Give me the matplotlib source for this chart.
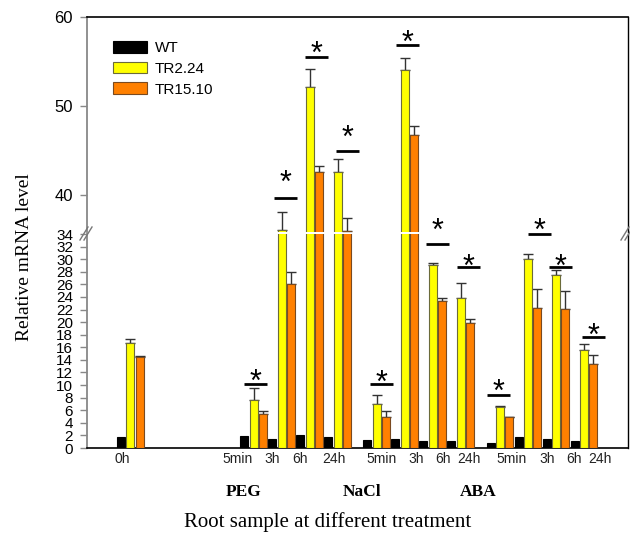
import matplotlib
matplotlib.use("Agg")
import matplotlib.pyplot as plt
from matplotlib.lines import Line2D
import numpy as np

# ---------------- data ----------------
groups = ["0h",
          "5min", "3h", "6h", "24h",
          "5min", "3h", "6h", "24h",
          "5min", "3h", "6h", "24h"]
treatments = ["PEG", "NaCl", "ABA"]
series_names = ["WT", "TR2.24", "TR15.10"]

wt      = [1.7, 1.9, 1.5, 2.05, 1.7, 1.27, 1.38, 1.17, 1.17, 0.74, 1.8, 1.43, 1.17]
tr224   = [16.7, 7.7, 36.1, 52.1, 42.6, 6.95, 54.0, 29.1, 23.9, 6.57, 30.0, 27.5, 15.6]
tr224_e = [0.6, 1.8, 2.0, 2.1, 1.4, 1.45, 1.4, 0.25, 2.3, 0.05, 0.8, 0.8, 1.0]
tr1510  = [14.4, 5.35, 26.1, 42.6, 36.0, 5.0, 46.7, 23.4, 19.9, 4.88, 22.2, 22.05, 13.35]
tr1510_e= [0.2, 0.45, 1.8, 0.7, 1.4, 0.9, 1.05, 0.5, 0.6, 0.07, 3.0, 2.95, 1.35]

# significance bar heights (None = no star)
sig_y = [None, 10.2, 39.7, 55.5, 45.0, 10.1, 56.9, 32.4, 28.7, 8.4, 34.0, 28.7, 17.6]

# ---------------- layout ----------------
W, H = 630, 536
fig = plt.figure(figsize=(W / 100, H / 100), dpi=100)

def fx(px):
    return px / W

def fy(py):
    return 1 - py / H

left_px, right_px = 87, 628
top_px, brk_top_px, brk_bot_px, bot_px = 17, 232, 234, 448

ax_top = fig.add_axes([fx(left_px), fy(brk_top_px), fx(right_px - left_px),
                       (brk_top_px - top_px) / H])
ax_bot = fig.add_axes([fx(left_px), fy(bot_px), fx(right_px - left_px),
                       (bot_px - brk_bot_px) / H])

# x positions of groups (group pitch = 1, extra gap between treatments)
pos = np.array([0.0] + [b + i for b in (4.4, 8.8, 13.2) for i in range(4)])
tick_shift = [0.04, -0.22, -0.01, -0.01, 0.21, 0.49, 0.74, 0.7, 0.63, 0.76, 1.01, 0.98, 0.91]
sig_dx = [0, 0.41, 0.48, 0.57, 0.70, 0.50, 0.43, 0.52, 0.61, 0.29, 0.73, 0.48, 0.66]
star_gap = [0, 11, 24, 12, 22, 11, 11, 22, 10, 12, 12, 10, 10]

bw = 0.29
offs = [0.0, 0.335, 0.665]
colors = ["#000000", "#FFFF00", "#FF8000"]
edges = ["#000000", "#6b6b3a", "#7a4a20"]

xmin = (left_px - 121) / 28.0
xmax = (right_px - 121) / 28.0

for ax in (ax_top, ax_bot):
    for k, (vals, errs) in enumerate([(wt, None), (tr224, tr224_e), (tr1510, tr1510_e)]):
        ax.bar(pos + offs[k], vals, width=bw, color=colors[k],
               edgecolor=edges[k], linewidth=0.8, label=series_names[k], zorder=3)
        if errs is not None:
            ax.errorbar(pos + offs[k], vals, yerr=[np.zeros(len(vals)), errs],
                        fmt="none", ecolor="#333333", elinewidth=1.0,
                        capsize=3.5, capthick=1.0, zorder=2)
    ax.set_xlim(xmin, xmax)

ax_top.set_ylim(35.85, 60)
ax_bot.set_ylim(0, 34)

ax_top.set_yticks([40, 50, 60])
ax_bot.set_yticks(np.arange(0, 35, 2))
for ax in (ax_top, ax_bot):
    ax.tick_params(axis="y", direction="out", length=5, width=1, color="#888888",
                   pad=5, labelsize=11)
    for lab in ax.get_yticklabels():
        lab.set_fontfamily(["Liberation Sans", "DejaVu Sans"])
    ax.spines["left"].set_color("#888888")
    ax.spines["left"].set_linewidth(1.3)
    ax.spines["right"].set_color("#000000")
    ax.spines["right"].set_linewidth(1.0)
for lab in ax_top.get_yticklabels():
    lab.set_fontsize(12)

ax_top.spines["bottom"].set_visible(False)
ax_top.spines["top"].set_linewidth(1.2)
ax_top.set_xticks([])
ax_bot.spines["top"].set_visible(False)
ax_bot.spines["bottom"].set_linewidth(1.2)
ax_bot.set_xticks(pos + np.array(tick_shift))
ax_bot.set_xticklabels(groups, fontsize=10, family=["Liberation Sans", "DejaVu Sans"],
                       color="#222222")
ax_bot.tick_params(axis="x", length=0, pad=3)

# significance lines and stars
for i, y in enumerate(sig_y):
    if y is None:
        continue
    ax = ax_top if y > 35.85 else ax_bot
    xc = pos[i] + sig_dx[i]
    ax.plot([xc - 0.41, xc + 0.41], [y, y], color="#000000", lw=2.0,
            clip_on=False, zorder=4, solid_capstyle="butt")
    ax.annotate("*", xy=(xc, y), xytext=(0, star_gap[i] * 0.72 - 13),
                textcoords="offset points", ha="center", va="baseline",
                fontsize=22, family=["Liberation Sans", "DejaVu Sans"],
                annotation_clip=False, zorder=5)

# legend
handles, labels = ax_top.get_legend_handles_labels()
fig.legend(handles, labels, loc="upper left",
           bbox_to_anchor=(fx(113), fy(41)), frameon=False,
           prop=dict(family=["Liberation Sans", "DejaVu Sans"], size=11),
           handlelength=2.2, handleheight=0.8, handletextpad=0.55,
           labelspacing=0.43, borderpad=0, borderaxespad=0)

# break marks
for x0 in (left_px, right_px):
    for dx in (-3, 1):
        fig.add_artist(Line2D([fx(x0 + dx - 4), fx(x0 + dx + 4)],
                              [fy(240), fy(227)], color="#777777", lw=1.0))

# text labels
serif = ["Liberation Serif", "DejaVu Serif"]
for name, xp in zip(treatments, (244, 362, 478)):
    fig.text(fx(xp), fy(492), name, ha="center", va="center",
             family=serif, fontweight="bold", fontsize=12.5)
fig.text(fx(328), fy(522), "Root sample at different treatment", ha="center",
         va="center", family=serif, fontsize=15)
fig.text(fx(25), fy(257), "Relative mRNA level", ha="center", va="center",
         rotation=90, family=serif, fontsize=14)

fig.savefig("out.png", dpi=100)
